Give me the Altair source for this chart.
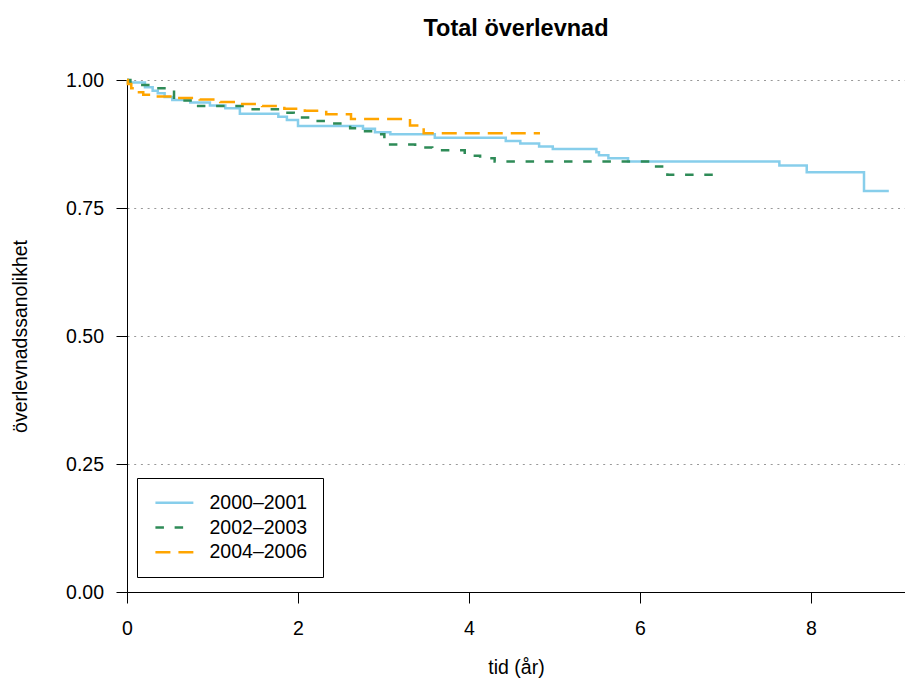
import altair as alt
import pandas as pd

periods = ["2000–2001", "2002–2003", "2004–2006"]
colors = ["#87CEEB", "#2E8B57", "#FFA500"]

# 2000–2001
t_a = [0, 0.01, 0.21, 0.30, 0.36, 0.44, 0.53, 0.74, 0.97, 1.15, 1.32, 1.77, 1.87, 2.00,
       2.76, 2.90, 3.08, 3.60, 4.43, 4.60, 4.82, 4.98, 5.49, 5.52, 5.63, 5.86, 7.63,
       7.95, 8.62, 8.91]
s_a = [1.0, 0.995, 0.986, 0.979, 0.974, 0.967, 0.961, 0.956, 0.950, 0.945, 0.934, 0.928,
       0.922, 0.910, 0.905, 0.898, 0.894, 0.887, 0.881, 0.876, 0.870, 0.865, 0.859, 0.853,
       0.847, 0.841, 0.833, 0.820, 0.783, 0.783]

# 2002–2003
t_b = [0, 0.04, 0.29, 0.55, 0.76, 1.38, 1.79, 1.95, 2.14, 2.32, 2.61, 2.69, 2.87, 3.01,
       3.37, 3.57, 3.95, 4.13, 4.30, 6.12, 6.32, 6.90]
s_b = [1.0, 0.990, 0.984, 0.960, 0.949, 0.943, 0.936, 0.927, 0.920, 0.915, 0.906, 0.900,
       0.894, 0.874, 0.868, 0.863, 0.852, 0.847, 0.841, 0.831, 0.815, 0.815]

# 2004–2006
t_c = [0, 0.01, 0.05, 0.08, 0.19, 0.33, 0.56, 0.85, 1.09, 1.32, 1.58, 1.84, 2.08, 2.33,
       2.62, 3.31, 3.47, 4.83]
s_c = [1.0, 0.992, 0.984, 0.976, 0.971, 0.968, 0.965, 0.962, 0.957, 0.953, 0.949, 0.944,
       0.940, 0.933, 0.924, 0.911, 0.896, 0.896]

x_ticks = [0, 2, 4, 6, 8]
y_ticks = [0, 0.25, 0.5, 0.75, 1.0]

rows = []
for p, ts, ss in zip(periods, [t_a, t_b, t_c], [s_a, s_b, s_c]):
    for i, (t, s) in enumerate(zip(ts, ss)):
        rows.append({"period": p, "t": t, "s": s, "ord": i})
df = pd.DataFrame(rows)

FONT = "Liberation Sans"
FS = 19.5
W = 778
H = 512
XMAX = W / 85.5

chart = alt.Chart(df).mark_line(
    interpolate="step-after", strokeWidth=2.5, strokeCap="butt"
).encode(
    x=alt.X("t:Q",
            scale=alt.Scale(domain=[0, XMAX], nice=False, zero=False),
            axis=alt.Axis(values=x_ticks, title="tid (år)", grid=False, format="d",
                          labelFlush=False, labelPadding=16,
                          titleBaseline="middle", titleY=75)),
    y=alt.Y("s:Q",
            scale=alt.Scale(domain=[0, 1], nice=False),
            axis=alt.Axis(values=y_ticks, format=".2f", title="överlevnadssanolikhet",
                          grid=True, gridDash=[2, 4.7], gridColor="#999999", gridWidth=1,
                          labelFlush=False, labelPadding=12.5,
                          titleBaseline="middle", titleX=-107, titleY=H / 2)),
    color=alt.Color("period:N",
                    scale=alt.Scale(domain=periods, range=colors),
                    legend=alt.Legend(title=None)),
    strokeDash=alt.StrokeDash("period:N",
                              scale=alt.Scale(domain=periods,
                                              range=[[1, 0], [8.5, 10.7], [15, 8]]),
                              legend=alt.Legend(title=None)),
    order="ord:Q",
).properties(
    width=W,
    height=H,
    title=alt.TitleParams("Total överlevnad", font=FONT, fontSize=23.5, fontWeight="bold",
                          color="black", anchor="middle", offset=30),
    autosize=alt.AutoSizeParams(type="none"),
    padding={"left": 119, "top": 72, "right": 0, "bottom": 87},
).configure_view(
    stroke=None
).configure_axis(
    labelFont=FONT, labelFontSize=FS, labelColor="black",
    titleFont=FONT, titleFontSize=FS, titleColor="black", titleFontWeight="normal",
    tickColor="black", tickSize=11, tickWidth=1,
    domainColor="black", domainWidth=1,
).configure_legend(
    orient="none", legendX=10, legendY=398,
    strokeColor="black", fillColor="white", padding=15, cornerRadius=0,
    labelFont=FONT, labelFontSize=FS, labelColor="black", labelOffset=38,
    symbolType="M-1,0H5", symbolSize=160, symbolStrokeWidth=2.5, rowPadding=3.75,
)

chart.save("out.html", embed_options={"renderer": "svg", "actions": False})
